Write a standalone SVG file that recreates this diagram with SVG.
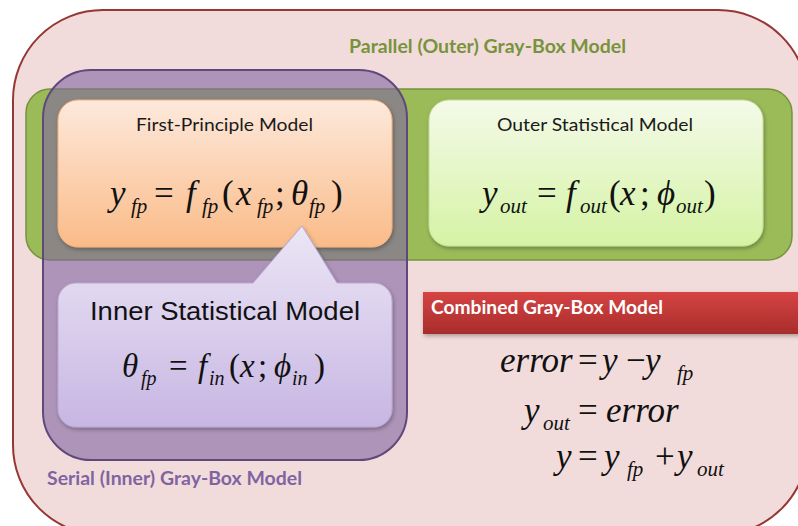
<svg xmlns="http://www.w3.org/2000/svg" width="798" height="526" viewBox="0 0 798 526">
<defs>
<linearGradient id="gOrange" x1="0" y1="0" x2="0" y2="1"><stop offset="0" stop-color="#fde9dc"/><stop offset="1" stop-color="#fabb88"/></linearGradient>
<linearGradient id="gLime" x1="0" y1="0" x2="0" y2="1"><stop offset="0" stop-color="#f4fae9"/><stop offset="1" stop-color="#d5f3a4"/></linearGradient>
<linearGradient id="gLav" x1="0" y1="0" x2="0" y2="1"><stop offset="0" stop-color="#ebe6f5"/><stop offset="1" stop-color="#c8b6e3"/></linearGradient>
<linearGradient id="gRed" x1="0" y1="0" x2="0" y2="1"><stop offset="0" stop-color="#d64443"/><stop offset="1" stop-color="#a82c2b"/></linearGradient>
<filter id="sh" x="-10%" y="-10%" width="120%" height="130%"><feDropShadow dx="1" dy="2" stdDeviation="2" flood-color="#000" flood-opacity="0.3"/></filter>
</defs>
<style>
.lbl{font-family:Lato,"Liberation Sans",sans-serif;font-size:18px;}
.b{font-weight:bold;}
.m{font-family:"Liberation Serif","Times New Roman",serif;font-style:italic;fill:#111;}
.o{font-family:"Liberation Serif","Times New Roman",serif;font-style:normal;fill:#111;}
.big{font-size:35px;}
.mid{font-size:33px;}
.sub{font-size:21px;}
.sub2{font-size:20px;}
</style>

<g id="parallel-outer">
<rect x="13" y="10" width="795" height="525" rx="90" fill="#f2dcdb" stroke="#953735" stroke-width="2"/>
<text class="lbl b" x="349" y="53" fill="#77933c" textLength="277" lengthAdjust="spacingAndGlyphs">Parallel (Outer) Gray-Box Model</text>
</g>

<g id="green-band">
<rect x="26" y="89" width="766" height="171" rx="24" fill="#9bbb59" stroke="#76923c" stroke-width="1.5"/>
</g>

<g id="serial-inner">
<rect x="43" y="70" width="364" height="390" rx="48" fill="#8064a2" fill-opacity="0.6" stroke="#5f497a" stroke-width="2"/>
<text class="lbl b" x="47" y="485" fill="#8064a2" textLength="255" lengthAdjust="spacingAndGlyphs">Serial (Inner) Gray-Box Model</text>
</g>

<g id="first-principle">
<rect x="58" y="100" width="334" height="147" rx="20" fill="url(#gOrange)" stroke="#f2b07a" stroke-width="1" filter="url(#sh)"/>
<text class="lbl" x="136" y="131" fill="#1a1a1a" textLength="177" lengthAdjust="spacingAndGlyphs">First-Principle Model</text>
<text class="m big" x="110" y="205">y</text>
<text class="m sub" x="131" y="213">fp</text>
<text class="o big" x="154" y="205">=</text>
<text class="m big" x="186" y="205">f</text>
<text class="m sub" x="202" y="213">fp</text>
<text class="o big" x="222" y="205">(</text>
<text class="m big" x="236" y="205">x</text>
<text class="m sub" x="257" y="213">fp</text>
<text class="o big" x="275" y="205">;</text>
<text class="m big" x="291" y="205">θ</text>
<text class="m sub" x="309" y="213">fp</text>
<text class="o big" x="331" y="205">)</text>
</g>

<g id="outer-statistical">
<rect x="429" y="100" width="334" height="146" rx="20" fill="url(#gLime)" stroke="#c3dc98" stroke-width="1" filter="url(#sh)"/>
<text class="lbl" x="497" y="131" fill="#1a1a1a" textLength="196" lengthAdjust="spacingAndGlyphs">Outer Statistical Model</text>
<text class="m big" x="482" y="205">y</text>
<text class="m sub" x="500" y="213">out</text>
<text class="o big" x="537" y="205">=</text>
<text class="m big" x="566" y="205">f</text>
<text class="m sub" x="580" y="213">out</text>
<text class="o big" x="609" y="205">(</text>
<text class="m big" x="620" y="205">x</text>
<text class="o big" x="640" y="205">;</text>
<text class="m big" x="657" y="205">ϕ</text>
<text class="m sub" x="676" y="213">out</text>
<text class="o big" x="704" y="205">)</text>
</g>

<g id="inner-statistical">
<path d="M76,283 L253,283 L302,226 L337,283 L374,283 A18,18 0 0 1 392,301 L392,409 A18,18 0 0 1 374,427 L76,427 A18,18 0 0 1 58,409 L58,301 A18,18 0 0 1 76,283 Z" fill="url(#gLav)" stroke="#b9a8d6" stroke-width="1" filter="url(#sh)"/>
<text x="90" y="320" font-family="'Liberation Sans',Arial,sans-serif" font-size="26" fill="#111" textLength="270" lengthAdjust="spacingAndGlyphs">Inner Statistical Model</text>
<text class="m mid" x="122" y="377">θ</text>
<text class="m sub2" x="141" y="385">fp</text>
<text class="o mid" x="169" y="377">=</text>
<text class="m mid" x="198" y="377">f</text>
<text class="m sub2" x="209" y="385">in</text>
<text class="o mid" x="229" y="377">(</text>
<text class="m mid" x="240" y="377">x</text>
<text class="o mid" x="258" y="377">;</text>
<text class="m mid" x="274" y="377">ϕ</text>
<text class="m sub2" x="292" y="385">in</text>
<text class="o mid" x="314" y="377">)</text>
</g>

<g id="combined">
<rect x="423" y="292" width="390" height="42" fill="url(#gRed)" filter="url(#sh)"/>
<text class="lbl b" x="431" y="314" fill="#ffffff" textLength="232" lengthAdjust="spacingAndGlyphs">Combined Gray-Box Model</text>
<text class="m big" x="500" y="372">error</text>
<text class="o big" x="578" y="372">=</text>
<text class="m big" x="602" y="372">y</text>
<text class="o big" x="626" y="372">−</text>
<text class="m big" x="645" y="372">y</text>
<text class="m sub" x="677" y="380">fp</text>
<text class="m big" x="524" y="422">y</text>
<text class="m sub" x="543" y="430">out</text>
<text class="o big" x="578" y="422">=</text>
<text class="m big" x="606" y="422">error</text>
<text class="m big" x="556" y="468">y</text>
<text class="o big" x="578" y="468">=</text>
<text class="m big" x="604" y="468">y</text>
<text class="m sub" x="627" y="476">fp</text>
<text class="o big" x="655" y="468">+</text>
<text class="m big" x="677" y="468">y</text>
<text class="m sub" x="697" y="476">out</text>
</g>

<g id="connectors"></g>
</svg>
